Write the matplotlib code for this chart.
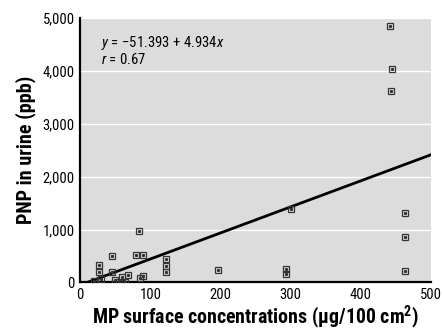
import numpy as np
import matplotlib
matplotlib.use("Agg")
import matplotlib.pyplot as plt

plt.rcParams["font.family"] = ["Roboto Condensed", "DejaVu Sans"]
plt.rcParams["mathtext.fontset"] = "custom"
plt.rcParams["mathtext.rm"] = "Roboto Condensed"
plt.rcParams["mathtext.it"] = "Roboto Condensed:italic"
plt.rcParams["mathtext.bf"] = "Roboto Condensed:bold"

# MP surface concentration (ug/100 cm2) vs PNP in urine (ppb)
mp_surface = [20, 27, 27, 30, 46, 46, 50, 56, 60, 64, 68, 80, 84, 85, 90, 90,
              123, 123, 123, 197, 293, 294, 300, 442, 444, 443, 463, 463, 463]
pnp_urine = [30, 330, 190, 60, 490, 190, 50, 10, 110, 10, 140, 520, 980, 80,
             520, 120, 450, 310, 190, 230, 260, 150, 1390, 4850, 4040, 3620,
             1310, 850, 220]

intercept = -51.393
slope = 4.934
r_value = 0.67

x_ticks = [0, 100, 200, 300, 400, 500]
y_ticks = [0, 1000, 2000, 3000, 4000, 5000]

fig = plt.figure(figsize=(4.43, 3.31), dpi=100)
ax = fig.add_axes([0.181, 0.147, 0.792, 0.798])
ax.set_facecolor("#dcdcdc")

# regression line, from where it crosses zero up to the right edge
x_fit = np.array([-intercept / slope, 500])
ax.plot(x_fit, intercept + slope * x_fit, color="black", linewidth=2.0, zorder=3)

ax.plot(mp_surface, pnp_urine, linestyle="none", marker="s", markersize=5,
        markerfacecolor="none", markeredgecolor="#333333", markeredgewidth=0.9,
        zorder=4)
ax.plot(mp_surface, pnp_urine, linestyle="none", marker="s", markersize=1.2,
        color="#333333", zorder=4)

ax.set_xlim(0, 500)
ax.set_ylim(0, 5000)
ax.set_xticks(x_ticks)
ax.set_yticks(y_ticks)
ax.set_yticklabels([f"{v:,}" for v in y_ticks])
ax.tick_params(length=0, labelsize=10.5, pad=4)
ax.grid(axis="y", color="white", linewidth=1.0)
ax.set_axisbelow(True)

for side in ["top", "right"]:
    ax.spines[side].set_visible(False)
for side in ["left", "bottom"]:
    ax.spines[side].set_linewidth(1.6)

ax.set_xlabel("MP surface concentrations (\u03bcg/100 cm$^{\\mathbf{2}}$)",
              fontsize=14.3, fontweight="bold", labelpad=1)
ax.set_ylabel("PNP in urine (ppb)", fontsize=14.5, fontweight="bold", labelpad=5)

ax.text(30, 4540, "$y$ = \u221251.393 + 4.934$x$", fontsize=10.6, va="center")
ax.text(30, 4220, f"$r$ = {r_value}", fontsize=10.6, va="center")

fig.savefig("out.png", dpi=100)
